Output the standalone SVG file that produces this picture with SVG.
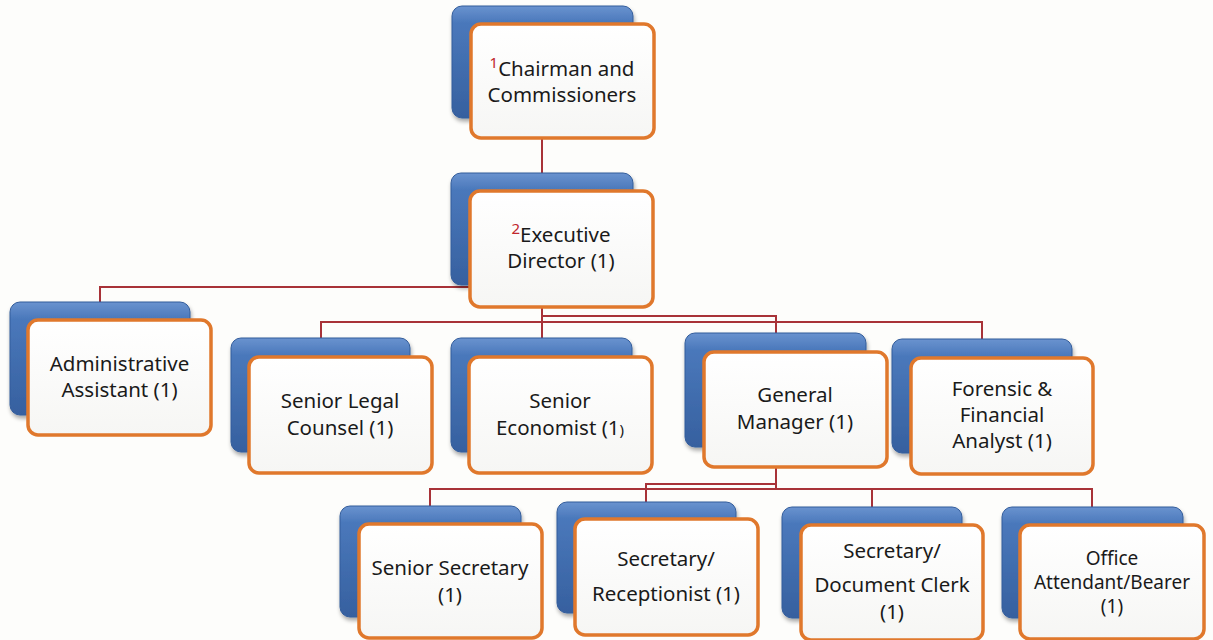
<svg xmlns="http://www.w3.org/2000/svg" width="1213" height="640" viewBox="0 0 1213 640">
<defs>
<linearGradient id="gBlue" x1="0" y1="0" x2="0" y2="1">
<stop offset="0" stop-color="#6a93cf"/>
<stop offset="0.15" stop-color="#4a78bb"/>
<stop offset="1" stop-color="#36609f"/>
</linearGradient>
<linearGradient id="gWhite" x1="0" y1="0" x2="0" y2="1">
<stop offset="0" stop-color="#ffffff"/>
<stop offset="1" stop-color="#f6f6f4"/>
</linearGradient>
<filter id="sh" x="-10%" y="-10%" width="125%" height="130%">
<feGaussianBlur in="SourceAlpha" stdDeviation="2"/>
<feOffset dx="1" dy="3" result="b"/>
<feComponentTransfer><feFuncA type="linear" slope="0.35"/></feComponentTransfer>
<feMerge><feMergeNode/><feMergeNode in="SourceGraphic"/></feMerge>
</filter>
</defs>
<style>
.back{fill:url(#gBlue);stroke:#335d9b;stroke-width:1;filter:url(#sh)}
.front{fill:url(#gWhite);stroke:#e0782c;stroke-width:3.5}
.lbl{font-family:"Noto Sans","Open Sans",sans-serif;font-size:20.5px;fill:#1a1a1a;text-anchor:middle}
.sup{fill:#c0262d;font-size:15px}
.conn{fill:none;stroke:#a83238;stroke-width:2}
</style>
<rect width="1213" height="640" fill="#fdfdfb"/>
<g id="connectors">
<path class="conn" d="M542 138V174"/>
<path class="conn" d="M542 287H100V302"/>
<path class="conn" d="M542 305V338"/>
<path class="conn" d="M542 316H776V333"/>
<path class="conn" d="M321 338V322H982V339"/>
<path class="conn" d="M776 467V489"/>
<path class="conn" d="M776 484H646V502"/>
<path class="conn" d="M430 507V489H1092V507"/>
<path class="conn" d="M872 489V507"/>
</g>
<g id="chairman">
<rect class="back" x="452" y="6" width="181" height="112" rx="10"/>
<rect class="front" x="471" y="24" width="183" height="114" rx="10"/>
<text class="lbl" x="562" y="76"><tspan class="sup" dy="-8">1</tspan><tspan dy="8">Chairman and</tspan><tspan x="562" y="102">Commissioners</tspan></text>
</g>
<g id="executive-director">
<rect class="back" x="451" y="173" width="182" height="112" rx="10"/>
<rect class="front" x="470" y="191" width="183" height="116" rx="10"/>
<text class="lbl" x="561" y="242"><tspan class="sup" dy="-8">2</tspan><tspan dy="8">Executive</tspan><tspan x="561" y="268">Director (1)</tspan></text>
</g>
<g id="administrative-assistant">
<rect class="back" x="10" y="302" width="180" height="113" rx="10"/>
<rect class="front" x="28" y="320" width="183" height="115" rx="10"/>
<text class="lbl" x="119.5" y="371">Administrative<tspan x="119.5" y="397">Assistant (1)</tspan></text>
</g>
<g id="senior-legal-counsel">
<rect class="back" x="231" y="338" width="179" height="114" rx="10"/>
<rect class="front" x="249" y="357" width="183" height="116" rx="10"/>
<text class="lbl" x="340" y="408">Senior Legal<tspan x="340" y="435">Counsel (1)</tspan></text>
</g>
<g id="senior-economist">
<rect class="back" x="451" y="338" width="181" height="114" rx="10"/>
<rect class="front" x="469" y="357" width="183" height="116" rx="10"/>
<text class="lbl" x="560" y="408">Senior<tspan x="560" y="435">Economist (1</tspan><tspan font-size="15">)</tspan></text>
</g>
<g id="general-manager">
<rect class="back" x="685" y="333" width="181" height="114" rx="10"/>
<rect class="front" x="704" y="352" width="183" height="115" rx="10"/>
<text class="lbl" x="795" y="402">General<tspan x="795" y="429">Manager (1)</tspan></text>
</g>
<g id="forensic-financial-analyst">
<rect class="back" x="892" y="339" width="180" height="114" rx="10"/>
<rect class="front" x="911" y="358" width="182" height="116" rx="10"/>
<text class="lbl" x="1002" y="396">Forensic &amp;<tspan x="1002" y="422">Financial</tspan><tspan x="1002" y="448">Analyst (1)</tspan></text>
</g>
<g id="senior-secretary">
<rect class="back" x="340" y="506" width="181" height="111" rx="10"/>
<rect class="front" x="359" y="524" width="183" height="114" rx="10"/>
<text class="lbl" x="450" y="575">Senior Secretary<tspan x="450" y="602">(1)</tspan></text>
</g>
<g id="secretary-receptionist">
<rect class="back" x="557" y="502" width="179" height="111" rx="10"/>
<rect class="front" x="575" y="519" width="183" height="116" rx="10"/>
<text class="lbl" x="666" y="566">Secretary/<tspan x="666" y="601">Receptionist (1)</tspan></text>
</g>
<g id="secretary-document-clerk">
<rect class="back" x="782" y="507" width="180" height="111" rx="10"/>
<rect class="front" x="801" y="525" width="182" height="115" rx="10"/>
<text class="lbl" x="892" y="558">Secretary/<tspan x="892" y="592">Document Clerk</tspan><tspan x="892" y="619">(1)</tspan></text>
</g>
<g id="office-attendant-bearer">
<rect class="back" x="1002" y="507" width="181" height="111" rx="10"/>
<rect class="front" x="1020" y="525" width="184" height="114" rx="10"/>
<text class="lbl" x="1112" y="565" style="font-size:19px">Office<tspan x="1112" y="589">Attendant/Bearer</tspan><tspan x="1112" y="613">(1)</tspan></text>
</g>
</svg>
